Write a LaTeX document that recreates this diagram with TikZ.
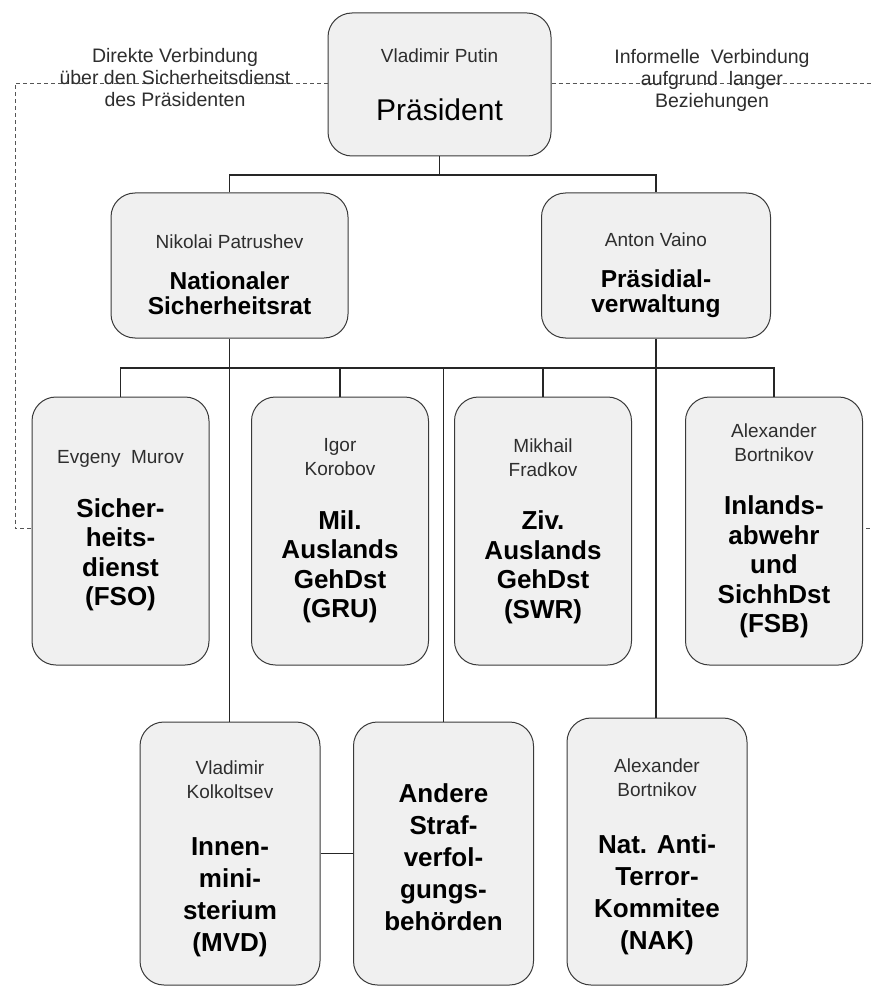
\documentclass[tikz,border=0pt]{standalone}
\usepackage{fontspec}
\setmainfont{Liberation Sans}
\usepackage{tikz}
\definecolor{BoxFill}{HTML}{F0F0F0}
\definecolor{BoxLine}{HTML}{3A3A3A}
\definecolor{LinkGray}{HTML}{555555}
\definecolor{NameGray}{HTML}{2E2E2E}
% name of the head above the (bold) title of an office
\newcommand{\whoname}[2][24pt]{{\mdseries\color{NameGray}\fontsize{19}{24}\selectfont #2\\[#1]}}
\tikzset{
    orgbox/.style={draw=BoxLine, fill=BoxFill, line width=1pt, rounded corners=24pt, inner sep=0pt, align=flush center, text width=168pt, font=\fontsize{26}{32}\selectfont\bfseries},
    topbox/.style={orgbox, text width=210pt, font=\fontsize{30}{34}\selectfont},
    midbox/.style={orgbox, minimum height=145pt, text width=210pt, font=\fontsize{24.5}{25}\selectfont\bfseries, text height=33pt},
    subbox/.style={orgbox, minimum width=177pt, minimum height=268pt, font=\fontsize{26}{29.5}\selectfont\bfseries},
    lowbox/.style={orgbox, minimum width=180pt, minimum height=263pt, text height=25pt},
    linkline/.style={draw=LinkGray, line width=0.9pt, dash pattern=on 4pt off 3pt},
    linktext/.style={align=center, text=NameGray, font=\fontsize{19.5}{22}\selectfont},
    conn/.style={draw=black!85, line width=1.3pt}
}
\begin{document}
\begin{tikzpicture}[x=1pt, y=-1pt]
    \useasboundingbox (0,0) rectangle (870,987);
    \fill[white] (0,0) rectangle (870,987);
    \node[topbox, minimum width=223pt, minimum height=143pt] (pres) at (439.5,84.5) {\whoname{Vladimir Putin}Präsident};
    \node[midbox, minimum width=237pt] (nsr) at (229.5,265.5) {\whoname[16pt]{Nikolai Patrushev}Nationaler\\Sicherheitsrat};
    \node[midbox, minimum width=229pt] (pv) at (656,265.5) {\whoname[16pt]{Anton Vaino}Präsidial-\\verwaltung};
    % row of services
    \node[subbox] (fso) at (120.5,531) {\whoname{Evgeny~~Murov}Sicher-\\heits-\\dienst\\(FSO)};
    \node[subbox] (gru) at (340,531) {\whoname{Igor\\Korobov}Mil.\\Auslands\\GehDst\\(GRU)};
    \node[subbox] (swr) at (543,531) {\whoname{Mikhail\\Fradkov}Ziv.\\Auslands\\GehDst\\(SWR)};
    \node[subbox] (fsb) at (774,531) {\whoname{Alexander\\Bortnikov}Inlands-\\abwehr\\und\\SichhDst\\(FSB)};
    % bottom row
    \node[lowbox] (mvd) at (230,853.5) {\whoname[25pt]{Vladimir\\Kolkoltsev}Innen-\\mini-\\sterium\\(MVD)};
    \node[lowbox, text height=27pt] (andere) at (443.5,853.5) {Andere\\Straf-\\verfol-\\gungs-\\behörden};
    \node[lowbox, minimum height=267pt, text height=24pt] (nak) at (657,851.5) {\whoname[25pt]{Alexander\\Bortnikov}Nat. Anti-\\Terror-\\Kommitee\\(NAK)};
    \coordinate (fork) at (0,175);
    \coordinate (bus) at (0,368);
    \draw[conn] (pres.south) -- (pres.south |- fork);
    \draw[conn] (nsr.north) |- (fork -| pv.north) -- (pv.north);
    \draw[conn] (fso.north) |- (bus -| fsb.north) -- (fsb.north);
    \draw[conn] (gru.north) -- (gru.north |- bus);
    \draw[conn] (swr.north) -- (swr.north |- bus);
    \draw[conn] (nsr.south) -- (nsr.south |- mvd.north);
    \draw[conn] (pv.south) -- (pv.south |- nak.north);
    \draw[conn] (andere.north) -- (andere.north |- bus);
    \draw[conn] (mvd.east) -- (mvd.east -| andere.west);
    % dashed links, the right one runs past the edge
    \coordinate (dashL) at (15,528);
    \coordinate (dashR) at (880,528);
    \draw[linkline] ([yshift=1.5pt]pres.west) -| (dashL) -- (dashL -| fso.west);
    \draw[linkline] ([yshift=1.5pt]pres.east) -| (dashR) -- (dashR -| fsb.east);
    \node[linktext] (lblL) at (175,78) {Direkte Verbindung\\über den Sicherheitsdienst\\des Präsidenten};
    \node[linktext] (lblR) at (712,80) {Informelle~~Verbindung\\aufgrund~~langer\\Beziehungen};
\end{tikzpicture}
\end{document}
